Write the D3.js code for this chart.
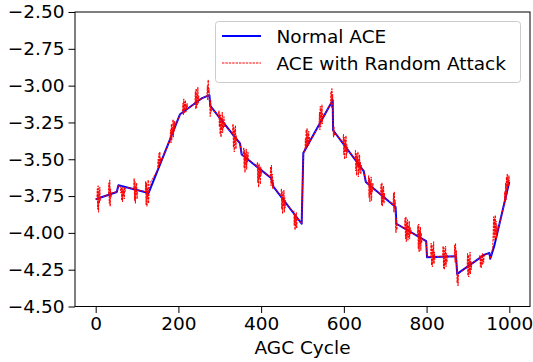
<!DOCTYPE html>
<html>
<head>
<meta charset="utf-8">
<script src="https://cdn.jsdelivr.net/npm/d3@7"></script>
<style>
  body { margin: 0; background: #fff; }
  svg { display: block; font-family: 'DejaVu Sans', sans-serif; }
</style>
</head>
<body>
<div id="chart"></div>
<script>
// normal ACE: breakpoints of the piecewise line (cycle, value)
const normalCycles = [0, 51, 55, 128, 174, 204, 256, 275, 277, 336, 349, 353, 424, 430, 498, 502,
  573, 574, 648, 653, 725, 727, 799, 801, 871, 874, 940, 952, 954, 964, 1000];
const normalValues = [-3.772, -3.722, -3.677, -3.729, -3.405, -3.194, -3.087, -3.065, -3.137, -3.348,
  -3.393, -3.468, -3.627, -3.688, -3.938, -3.457, -3.099, -3.303, -3.580, -3.654, -3.824, -3.938,
  -4.056, -4.165, -4.158, -4.278, -4.148, -4.137, -4.176, -4.085, -3.653];

// random attack bursts: first cycle of each burst, then one value per cycle
const attackStarts = [3, 31, 60, 92, 120, 150, 180, 210, 240, 269, 297, 331, 357, 390, 422, 448, 478,
  506, 540, 568, 598, 627, 659, 689, 719, 747, 778, 810, 839, 867, 898, 928, 960, 988];
const attackValues = [
  [-3.77, -3.70, -3.84, -3.68, -3.86, -3.72, -3.80, -3.69, -3.78, -3.76],
  [-3.74, -3.66, -3.80, -3.64, -3.82, -3.70, -3.76, -3.73],
  [-3.69, -3.73, -3.68, -3.78, -3.70, -3.79, -3.69, -3.75, -3.71, -3.77, -3.69, -3.72, -3.69],
  [-3.70, -3.63, -3.78, -3.65, -3.80, -3.68, -3.74, -3.66, -3.77, -3.71, -3.71],
  [-3.72, -3.65, -3.81, -3.66, -3.82, -3.70, -3.77, -3.64, -3.80, -3.72, -3.70, -3.68, -3.66],
  [-3.57, -3.50, -3.56, -3.46, -3.54, -3.45, -3.53, -3.49, -3.52],
  [-3.36, -3.30, -3.39, -3.26, -3.37, -3.28, -3.33, -3.23, -3.35, -3.25, -3.31, -3.24, -3.29, -3.27],
  [-3.18, -3.12, -3.20, -3.09, -3.19, -3.11, -3.17, -3.10, -3.18, -3.13, -3.16, -3.12, -3.16],
  [-3.12, -3.04, -3.16, -3.02, -3.15, -3.06, -3.13, -3.01, -3.12, -3.07, -3.10],
  [-3.07, -3.00, -3.10, -2.96, -3.05, -3.02, -3.08, -3.15, -3.21, -3.10, -3.18, -3.15],
  [-3.21, -3.17, -3.28, -3.19, -3.33, -3.20, -3.35, -3.22, -3.30, -3.18, -3.32, -3.24, -3.29, -3.21, -3.28, -3.25, -3.27],
  [-3.33, -3.26, -3.42, -3.28, -3.45, -3.30, -3.40, -3.27, -3.43, -3.34, -3.37],
  [-3.48, -3.42, -3.56, -3.44, -3.59, -3.46, -3.54, -3.43, -3.57, -3.47, -3.52, -3.45, -3.50],
  [-3.55, -3.52, -3.66, -3.54, -3.69, -3.53, -3.63, -3.56, -3.67, -3.55, -3.61, -3.57, -3.58],
  [-3.62, -3.55, -3.68, -3.54, -3.66, -3.60, -3.70, -3.64, -3.69],
  [-3.75, -3.70, -3.84, -3.72, -3.87, -3.74, -3.82, -3.71, -3.86, -3.76, -3.83, -3.78, -3.80],
  [-3.86, -3.85, -3.95, -3.87, -3.98, -3.88, -3.96, -3.86, -3.97, -3.90, -3.90],
  [-3.44, -3.36, -3.43, -3.30, -3.42, -3.29, -3.40, -3.33, -3.41, -3.31, -3.39, -3.35, -3.38],
  [-3.27, -3.18, -3.30, -3.14, -3.28, -3.16, -3.25, -3.13, -3.26, -3.19, -3.22],
  [-3.12, -3.04, -3.15, -3.02, -3.10, -3.06, -3.30, -3.35, -3.28, -3.34, -3.32],
  [-3.39, -3.33, -3.47, -3.35, -3.50, -3.37, -3.45, -3.34, -3.49, -3.40, -3.46, -3.42, -3.44],
  [-3.50, -3.44, -3.58, -3.46, -3.61, -3.48, -3.55, -3.45, -3.62, -3.50, -3.59, -3.47, -3.57, -3.52, -3.60, -3.54, -3.56],
  [-3.67, -3.61, -3.76, -3.63, -3.79, -3.65, -3.74, -3.62, -3.78, -3.68, -3.72, -3.66, -3.70],
  [-3.74, -3.67, -3.81, -3.66, -3.82, -3.70, -3.79, -3.68, -3.80, -3.73, -3.76],
  [-3.81, -3.73, -3.86, -3.72, -3.84, -3.78, -3.95, -4.00, -3.90, -3.98, -3.94],
  [-3.97, -3.90, -4.04, -3.89, -4.06, -3.93, -4.02, -3.91, -4.05, -3.95, -4.03, -3.92, -4.04, -3.96, -4.01, -3.98, -4.00],
  [-4.02, -3.95, -4.11, -3.94, -4.13, -3.98, -4.08, -3.96, -4.12, -4.00, -4.07, -4.04],
  [-4.16, -4.07, -4.22, -4.08, -4.23, -4.11, -4.20, -4.06, -4.21, -4.13, -4.18, -4.16],
  [-4.16, -4.09, -4.24, -4.10, -4.25, -4.12, -4.22, -4.09, -4.23, -4.14, -4.20, -4.15, -4.16],
  [-4.16, -4.08, -4.20, -4.07, -4.18, -4.12, -4.24, -4.34, -4.26, -4.36, -4.28],
  [-4.23, -4.14, -4.29, -4.15, -4.30, -4.18, -4.27, -4.13, -4.28, -4.19, -4.25, -4.21],
  [-4.17, -4.15, -4.23, -4.16, -4.24, -4.15, -4.22, -4.14, -4.21, -4.17, -4.20, -4.16, -4.15],
  [-4.10, -4.00, -3.89, -4.05, -3.90, -4.03, -3.88, -4.01, -3.92, -4.04, -3.95, -4.00, -3.99],
  [-3.80, -3.72, -3.79, -3.66, -3.78, -3.62, -3.74, -3.60, -3.70, -3.63, -3.68, -3.61, -3.65]
];

const xTicks = [0, 200, 400, 600, 800, 1000];
const yTicks = [-2.5, -2.75, -3.0, -3.25, -3.5, -3.75, -4.0, -4.25, -4.5];
const seriesNames = ['Normal ACE', 'ACE with Random Attack'];

// params
let width = 533;
let height = 362;
let m = {left: 75, right: 530, top: 12, bottom: 306.5};
let fontSize = '18.5px';
let redDash = '2.4,1';

var svg = d3.select('#chart').append('svg')
  .attr('width', width)
  .attr('height', height);

var x = d3.scaleLinear().domain([-50, 1050]).range([m.left, m.right]);
var y = d3.scaleLinear().domain([-4.5, -2.5]).range([m.bottom, m.top]);

// series points
var normal = normalCycles.map((c, i) => [c, normalValues[i]]);

// attack series follows the normal line outside the bursts
var burstPts = [];
var ranges = [];
attackStarts.forEach((s, k) => {
  let vals = attackValues[k];
  ranges.push([s, s + vals.length - 1]);
  vals.forEach((v, i) => burstPts.push([s + i, v]));
});
var attack = normal
  .filter(p => !ranges.some(r => p[0] >= r[0] && p[0] <= r[1]))
  .concat(burstPts)
  .sort((a, b) => a[0] - b[0]);

var line = d3.line().x(d => x(d[0])).y(d => y(d[1]));

var plot = svg.append('g');
plot.append('path')
  .datum(normal)
  .attr('d', line)
  .attr('fill', 'none')
  .attr('stroke', '#0000ff')
  .attr('stroke-width', 2)
  .attr('stroke-linejoin', 'round');
plot.append('path')
  .datum(attack)
  .attr('d', line)
  .attr('fill', 'none')
  .attr('stroke', '#ff0000')
  .attr('stroke-width', 1)
  .attr('stroke-dasharray', redDash);

// axes
var xAxis = svg.append('g')
  .attr('transform', `translate(0, ${m.bottom})`)
  .call(d3.axisBottom(x).tickValues(xTicks).tickSize(6.5).tickPadding(4).tickFormat(d3.format('d')));
var yAxis = svg.append('g')
  .attr('transform', `translate(${m.left}, 0)`)
  .call(d3.axisLeft(y).tickValues(yTicks).tickSize(6.5).tickPadding(4)
    .tickFormat(d => d3.format('.2f')(d).replace('-', '\u2212')));
[xAxis, yAxis].forEach(a => {
  a.select('.domain').remove();
  a.selectAll('line').attr('stroke', '#000').attr('stroke-width', 1);
  a.selectAll('text').attr('fill', '#000').style('font-size', fontSize).style('font-family', 'DejaVu Sans');
});

// frame
svg.append('rect')
  .attr('x', m.left)
  .attr('y', m.top)
  .attr('width', m.right - m.left)
  .attr('height', m.bottom - m.top)
  .attr('fill', 'none')
  .attr('stroke', '#000')
  .attr('stroke-width', 1);

svg.append('text')
  .attr('x', (m.left + m.right) / 2)
  .attr('y', 354)
  .attr('text-anchor', 'middle')
  .style('font-size', fontSize)
  .text('AGC Cycle');

// legend
var legend = svg.append('g');
legend.append('rect')
  .attr('x', 215.5)
  .attr('y', 21.5)
  .attr('width', 305)
  .attr('height', 61)
  .attr('rx', 3)
  .attr('fill', 'rgba(255,255,255,0.8)')
  .attr('stroke', '#cccccc')
  .attr('stroke-width', 1);
var rows = [
  {name: seriesNames[0], color: '#0000ff', w: 2, dash: null},
  {name: seriesNames[1], color: '#ff0000', w: 1, dash: redDash}
];
rows.forEach((r, i) => {
  let yy = 36 + i * 27;
  legend.append('line')
    .attr('x1', 222).attr('x2', 261)
    .attr('y1', yy).attr('y2', yy)
    .attr('stroke', r.color)
    .attr('stroke-width', r.w)
    .attr('stroke-dasharray', r.dash);
  legend.append('text')
    .attr('x', 276.5)
    .attr('y', yy + 7)
    .style('font-size', fontSize)
    .text(r.name);
});
</script>
</body>
</html>
